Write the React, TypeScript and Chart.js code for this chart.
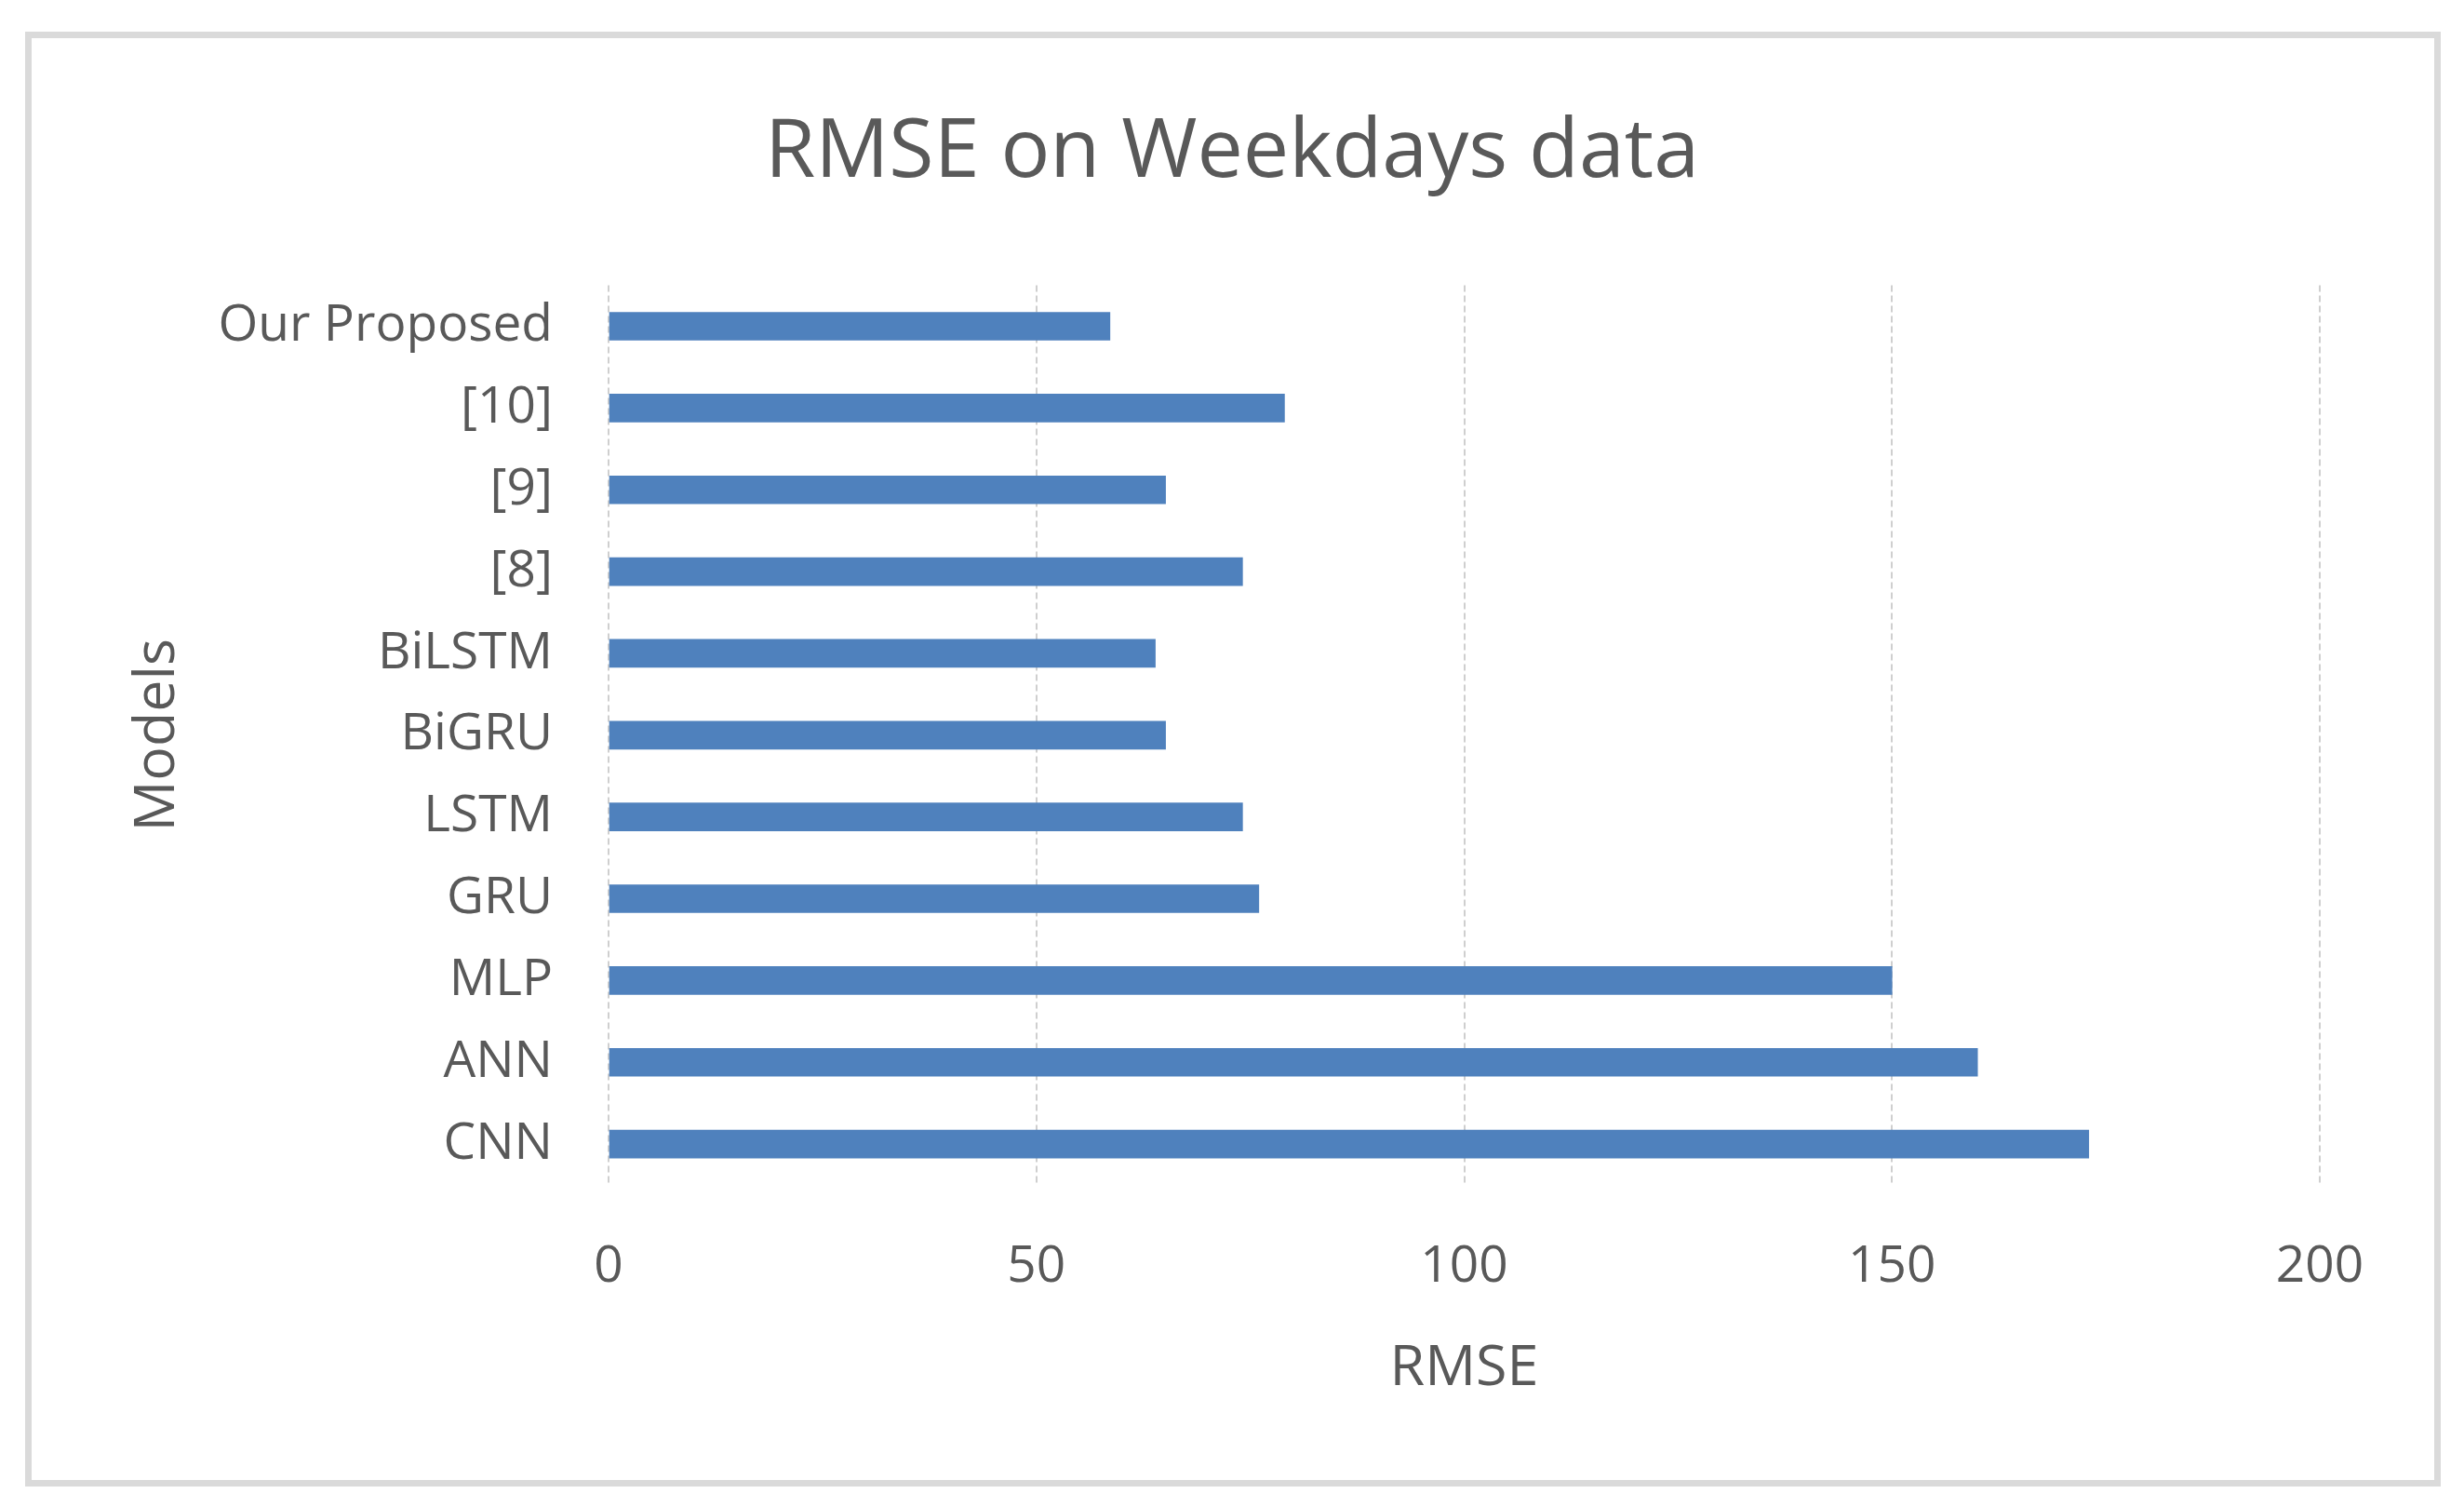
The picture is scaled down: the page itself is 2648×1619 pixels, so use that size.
import React, { useEffect, useRef } from "react";
import { Chart, registerables } from "chart.js";

Chart.register(...registerables);

const chartTitle = "RMSE on Weekdays data";
const models = ["Our Proposed", "[10]", "[9]", "[8]", "BiLSTM", "BiGRU", "LSTM", "GRU", "MLP", "ANN", "CNN"];
const rmseValues = [58.6, 79.0, 65.1, 74.1, 63.9, 65.1, 74.1, 76.0, 150.0, 160.0, 173.0];
const xTickValues = [0, 50, 100, 150, 200];
const xAxisTitle = "RMSE";
const yAxisTitle = "Models";

const W = 2648;
const H = 1619;
const textColor = "#595959";
const fontFamily = "'Open Sans', sans-serif";

export default function App() {
  const ref = useRef<HTMLCanvasElement | null>(null);

  useEffect(() => {
    if (!ref.current) return;
    const chart = new Chart(ref.current, {
      type: "bar",
      data: {
        labels: models,
        datasets: [
          {
            label: "RMSE",
            data: rmseValues,
            backgroundColor: "#4F81BD",
            borderWidth: 0,
            barThickness: 30,
          },
        ],
      },
      options: {
        indexAxis: "y",
        responsive: false,
        animation: false,
        maintainAspectRatio: false,
        layout: { padding: { left: 155, right: 155, top: 0, bottom: 108 } },
        plugins: {
          legend: { display: false },
          tooltip: { enabled: false },
          title: {
            display: true,
            text: chartTitle,
            color: textColor,
            font: { family: fontFamily, size: 88, weight: "normal" },
            padding: { top: 112, bottom: 89 },
          },
        },
        scales: {
          x: {
            type: "linear",
            min: 0,
            max: 200,
            afterBuildTicks: (scale: any) => {
              scale.ticks = xTickValues.map((v) => ({ value: v }));
            },
            afterFit: (scale: any) => {
              scale.height = 1511 - 1273;
            },
            grid: {
              display: true,
              color: "#cfcfcf",
              lineWidth: 2,
              drawTicks: false,
            },
            border: { display: false, dash: [7, 4] },
            ticks: {
              color: textColor,
              font: { family: fontFamily, size: 55 },
              padding: 55,
            },
            title: {
              display: true,
              text: xAxisTitle,
              color: textColor,
              font: { family: fontFamily, size: 61 },
              padding: { top: 4, bottom: 4 },
            },
          },
          y: {
            type: "category",
            afterFit: (scale: any) => {
              scale.width = 654 - 155;
            },
            grid: { display: false, drawTicks: false },
            border: { display: false },
            ticks: {
              color: textColor,
              font: { family: fontFamily, size: 55 },
              padding: 60,
            },
            title: {
              display: true,
              text: yAxisTitle,
              color: textColor,
              font: { family: fontFamily, size: 61 },
              padding: { top: -22, bottom: 4 },
            },
          },
        },
      },
    });
    return () => chart.destroy();
  }, []);

  return (
    <div style={{ position: "fixed", left: 0, top: 0, width: W, height: H, background: "#ffffff" }}>
      <div
        style={{
          position: "absolute",
          left: 27,
          top: 34,
          width: 2596,
          height: 1563,
          boxSizing: "border-box",
          border: "7px solid #dadada",
          background: "#ffffff",
        }}
      />
      <canvas ref={ref} width={W} height={H} style={{ position: "absolute", left: 0, top: 0, width: W, height: H }} />
    </div>
  );
}
